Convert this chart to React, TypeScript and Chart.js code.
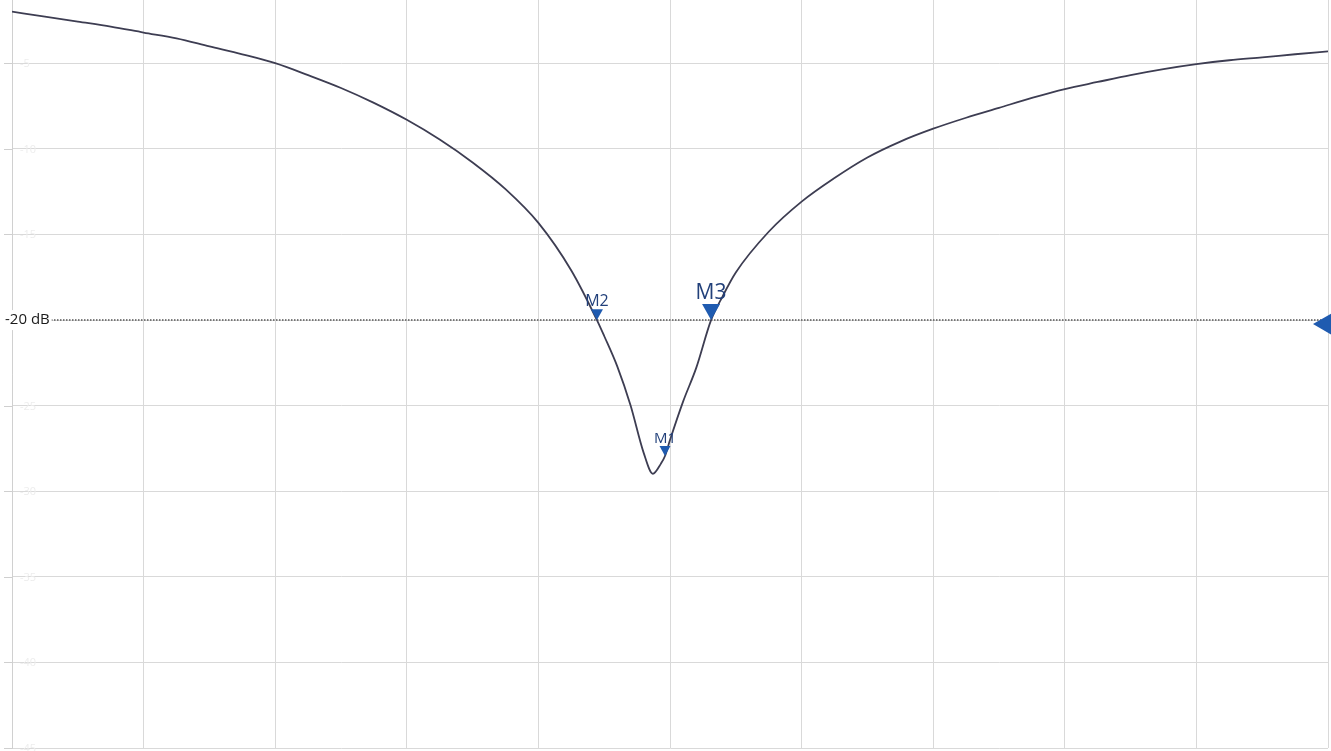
import React, { useEffect, useRef } from "react";
import { Chart, registerables } from "chart.js";

Chart.register(...registerables);

// Frequency axis in percent of span (10 divisions), values in dB
const freqs = [0, 2.5, 5, 7.5, 10, 12.5, 15, 17.5, 20, 22.5, 25, 27.5, 30, 32.5, 35, 37.5, 40, 42.5, 44.45, 45, 46, 47, 48, 48.7, 49.3, 49.62, 50, 51, 52, 53.12, 54, 55, 57.5, 60, 62.5, 65, 67.5, 70, 72.5, 75, 77.5, 80, 82.5, 85, 87.5, 90, 92.5, 95, 97.5, 100];
const s11 = [-1.98, -2.27, -2.56, -2.85, -3.2, -3.54, -4.01, -4.47, -4.99, -5.69, -6.44, -7.31, -8.3, -9.45, -10.79, -12.35, -14.32, -17.1, -20, -20.93, -22.72, -24.98, -27.76, -28.98, -28.4, -27.94, -27.01, -24.75, -22.78, -20, -18.61, -17.22, -14.84, -13.08, -11.7, -10.5, -9.57, -8.82, -8.18, -7.6, -7.02, -6.5, -6.09, -5.69, -5.34, -5.05, -4.82, -4.65, -4.47, -4.3];

const limitValue = -20;
const limitLabel = "-20 dB";

const markerNames = ["M1", "M2", "M3"];
const markerFreqs = [49.62, 44.45, 53.12];
const markerValues = [-27.94, -20, -20];

const yTicks = [-5, -10, -15, -20, -25, -30, -35, -40, -45];

const markerStyle: Record<string, { size: number; font: number }> = {
  M1: { size: 11, font: 15 },
  M2: { size: 12, font: 16 },
  M3: { size: 18, font: 21 },
};

const overlay = {
  id: "overlay",
  beforeDatasetsDraw(chart: any) {
    const { ctx, scales, chartArea } = chart;
    const y = scales.y;
    ctx.save();
    ctx.strokeStyle = "#cfcfcf";
    ctx.lineWidth = 1;
    ctx.font = '11px "Open Sans"';
    ctx.textBaseline = "middle";
    ctx.textAlign = "left";
    yTicks.forEach((v) => {
      const py = Math.round(y.getPixelForValue(v)) + 0.5;
      ctx.beginPath();
      ctx.moveTo(chartArea.left - 8, py);
      ctx.lineTo(chartArea.left, py);
      ctx.stroke();
      if (v !== limitValue) {
        ctx.fillStyle = "#ededed";
        ctx.fillText(String(v), chartArea.left + 8, py);
      }
    });
    ctx.restore();
  },
  afterDatasetsDraw(chart: any) {
    const { ctx, scales, chartArea } = chart;
    const x = scales.x;
    const y = scales.y;
    const yl = y.getPixelForValue(limitValue);
    ctx.save();
    // limit label
    ctx.font = '15px "Open Sans"';
    const tw = ctx.measureText(limitLabel).width;
    ctx.fillStyle = "#ffffff";
    ctx.fillRect(3, yl - 10, tw + 4, 20);
    ctx.fillStyle = "#1a1a1a";
    ctx.textBaseline = "middle";
    ctx.textAlign = "left";
    ctx.fillText(limitLabel, 5, yl);
    // limit arrow at right edge
    ctx.fillStyle = "#1f5bb0";
    ctx.beginPath();
    ctx.moveTo(chartArea.right - 15, yl + 4);
    ctx.lineTo(chartArea.right + 4, yl - 7);
    ctx.lineTo(chartArea.right + 4, yl + 15);
    ctx.closePath();
    ctx.fill();
    // markers
    markerNames.forEach((name, i) => {
      const px = x.getPixelForValue(markerFreqs[i]);
      const py = y.getPixelForValue(markerValues[i]);
      const st = markerStyle[name];
      const s = st.size;
      ctx.fillStyle = "#1f5bb0";
      ctx.beginPath();
      ctx.moveTo(px, py);
      ctx.lineTo(px - s / 2, py - s * 0.9);
      ctx.lineTo(px + s / 2, py - s * 0.9);
      ctx.closePath();
      ctx.fill();
      ctx.fillStyle = "#22407a";
      ctx.font = `${st.font}px "Open Sans"`;
      ctx.textAlign = "center";
      ctx.textBaseline = "bottom";
      ctx.fillText(name, px, py - s * 0.9);
    });
    ctx.restore();
  },
};

export default function App() {
  const ref = useRef<HTMLCanvasElement | null>(null);
  useEffect(() => {
    document.body.style.margin = "0";
    document.body.style.background = "#ffffff";
    const canvas = ref.current;
    if (!canvas) return;
    const chart = new Chart(canvas, {
      type: "line",
      data: {
        datasets: [
          {
            label: "S11",
            data: freqs.map((f, i) => ({ x: f, y: s11[i] })),
            borderColor: "#3d3d52",
            borderWidth: 1.8,
            pointRadius: 0,
            cubicInterpolationMode: "monotone",
            fill: false,
          },
          {
            label: "Limit",
            data: [
              { x: 0, y: limitValue },
              { x: 100, y: limitValue },
            ],
            borderColor: "#555555",
            borderWidth: 1.5,
            borderDash: [1.5, 1.5],
            pointRadius: 0,
            fill: false,
          },
        ],
      },
      options: {
        animation: false,
        responsive: false,
        maintainAspectRatio: false,
        layout: { padding: { left: 12, right: 3, top: 0, bottom: 3 } },
        plugins: {
          legend: { display: false },
          tooltip: { enabled: false },
          title: { display: false },
        },
        scales: {
          x: {
            type: "linear",
            min: 0,
            max: 100,
            ticks: { display: false, stepSize: 10 },
            grid: { color: "#d9d9d9", lineWidth: 1, drawTicks: false },
            border: { display: false },
          },
          y: {
            type: "linear",
            min: -45,
            max: -1.3,
            afterBuildTicks: (scale: any) => {
              scale.ticks = yTicks.map((v) => ({ value: v }));
            },
            ticks: { display: false, includeBounds: false },
            grid: { color: "#d9d9d9", lineWidth: 1, drawTicks: false },
            border: { display: true, color: "#d0d0d0" },
          },
        },
      },
      plugins: [overlay],
    });
    return () => chart.destroy();
  }, []);
  return (
    <div style={{ width: 1331, height: 751, background: "#fff" }}>
      <canvas ref={ref} width={1331} height={751} style={{ display: "block" }} />
    </div>
  );
}
